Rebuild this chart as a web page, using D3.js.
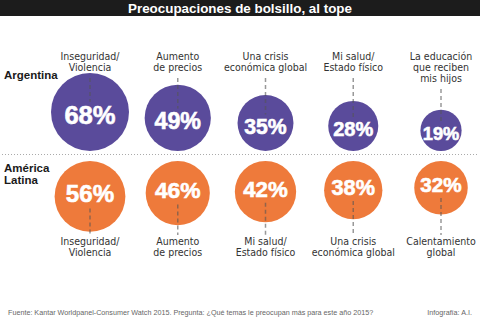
<!DOCTYPE html>
<html>
<head>
<meta charset="utf-8">
<script src="https://cdn.jsdelivr.net/npm/d3@7"></script>
<style>
  body { margin: 0; background: #fff; }
  svg { display: block; }
  .lbl { font-family: "Liberation Sans Narrow", "DejaVu Sans Condensed", "Liberation Sans", sans-serif; fill: #333; }
  .pct { font-family: "Liberation Sans", Arial, sans-serif; font-weight: bold; fill: #fff; stroke: #fff; stroke-width: 0.6px; }
</style>
</head>
<body>
<div id="chart"></div>
<script>
// data
var argLabels = [["Inseguridad/", "Violencia"], ["Aumento", "de precios"], ["Una crisis", "económica global"],
                 ["Mi salud/", "Estado físico"], ["La educación", "que reciben", "mis hijos"]];
var argValues = [68, 49, 35, 28, 19];

var latLabels = [["Inseguridad/", "Violencia"], ["Aumento", "de precios"], ["Mi salud/", "Estado físico"],
                 ["Una crisis", "económica global"], ["Calentamiento", "global"]];
var latValues = [56, 46, 42, 38, 32];

var rowNames = [["Argentina"], ["América", "Latina"]];

var width = 480, height = 326;
var purple = "#5a4b9b", orange = "#ee7a3b";

var svg = d3.select("#chart").append("svg")
    .attr("width", width)
    .attr("height", height);

// title bar
svg.append("rect").attr("x", 0).attr("y", 0).attr("width", width).attr("height", 16).attr("fill", "#1c1c1c");
svg.append("text")
    .attr("x", width / 2).attr("y", 12.5)
    .attr("text-anchor", "middle")
    .style("font-family", "Liberation Sans, Arial, sans-serif")
    .style("font-weight", "bold")
    .style("font-size", "13.4px")
    .attr("fill", "#fff")
    .text("Preocupaciones de bolsillo, al tope");

var x = d3.scalePoint().domain(d3.range(5)).range([90, 441]);
var r = d3.scaleSqrt().domain([0, 68]).range([0, 39]);
var fontSize = function(v) { return 10 + 0.4 * r(v); };

var lineH = 11;

// separator
svg.append("line")
    .attr("x1", 2).attr("x2", 478).attr("y1", 154.5).attr("y2", 154.5)
    .attr("stroke", "#aaa").attr("stroke-width", 1).attr("stroke-dasharray", "1,2");

// row names
rowNames.forEach(function(lines, k) {
  var y0 = k === 0 ? 79 : 172;
  var t = svg.append("text")
      .attr("x", 4).attr("y", y0)
      .style("font-family", "Liberation Sans, Arial, sans-serif")
      .style("font-weight", "bold")
      .style("font-size", "11.5px")
      .attr("fill", "#1a1a1a");
  lines.forEach(function(l, i) {
    t.append("tspan").attr("x", 4).attr("y", y0 + i * 11.5).text(l);
  });
});

// Argentina row: circles bottom-aligned, labels above
var arg = svg.append("g").selectAll("g")
    .data(argValues.map(function(v, i) { return {v: v, i: i, lab: argLabels[i]}; }))
    .enter().append("g");

arg.append("circle")
    .attr("cx", d => x(d.i))
    .attr("cy", d => 151 - r(d.v))
    .attr("r", d => r(d.v))
    .attr("fill", purple);

arg.append("line")
    .attr("x1", d => x(d.i)).attr("x2", d => x(d.i))
    .attr("y1", d => 60 + (d.lab.length - 1) * lineH + 7)
    .attr("y2", d => 151 - r(d.v) - fontSize(d.v) * 0.4)
    .attr("stroke", "#555").attr("stroke-opacity", 0.6)
    .attr("stroke-width", 1.5).attr("stroke-dasharray", "4,3");

arg.append("text")
    .attr("class", "lbl")
    .attr("text-anchor", "middle")
    .style("font-size", "10.5px")
    .each(function(d) {
      var t = d3.select(this);
      d.lab.forEach(function(l, k) {
        t.append("tspan").attr("x", x(d.i)).attr("y", 60 + k * lineH).text(l);
      });
    });

arg.append("text")
    .attr("class", "pct")
    .attr("text-anchor", "middle")
    .attr("x", d => x(d.i))
    .attr("y", d => 151 - r(d.v) + 3 + fontSize(d.v) * 0.36)
    .style("font-size", d => fontSize(d.v) + "px")
    .text(d => d.v + "%");

// America Latina row: circles top-aligned, labels below
var lat = svg.append("g").selectAll("g")
    .data(latValues.map(function(v, i) { return {v: v, i: i, lab: latLabels[i]}; }))
    .enter().append("g");

lat.append("circle")
    .attr("cx", d => x(d.i))
    .attr("cy", d => 161 + r(d.v))
    .attr("r", d => r(d.v))
    .attr("fill", orange);

lat.append("line")
    .attr("x1", d => x(d.i)).attr("x2", d => x(d.i))
    .attr("y1", d => 161 + r(d.v) + fontSize(d.v) * 0.5)
    .attr("y2", 235)
    .attr("stroke", "#555").attr("stroke-opacity", 0.6)
    .attr("stroke-width", 1.5).attr("stroke-dasharray", "4,3");

lat.append("text")
    .attr("class", "lbl")
    .attr("text-anchor", "middle")
    .style("font-size", "10.5px")
    .each(function(d) {
      var t = d3.select(this);
      d.lab.forEach(function(l, k) {
        t.append("tspan").attr("x", x(d.i)).attr("y", 245 + k * lineH).text(l);
      });
    });

lat.append("text")
    .attr("class", "pct")
    .attr("text-anchor", "middle")
    .attr("x", d => x(d.i))
    .attr("y", d => 161 + r(d.v) - 3 + fontSize(d.v) * 0.36)
    .style("font-size", d => fontSize(d.v) + "px")
    .text(d => d.v + "%");

// footer
svg.append("text")
    .attr("x", 8).attr("y", 315)
    .style("font-family", "Liberation Sans, Arial, sans-serif")
    .style("font-size", "7.2px")
    .attr("fill", "#666")
    .text("Fuente: Kantar Worldpanel-Consumer Watch 2015. Pregunta: ¿Qué temas le preocupan más para este año 2015?");

svg.append("text")
    .attr("x", 472).attr("y", 315)
    .attr("text-anchor", "end")
    .style("font-family", "Liberation Sans, Arial, sans-serif")
    .style("font-size", "7.2px")
    .attr("fill", "#666")
    .text("Infografía: A.I.");
</script>
</body>
</html>
